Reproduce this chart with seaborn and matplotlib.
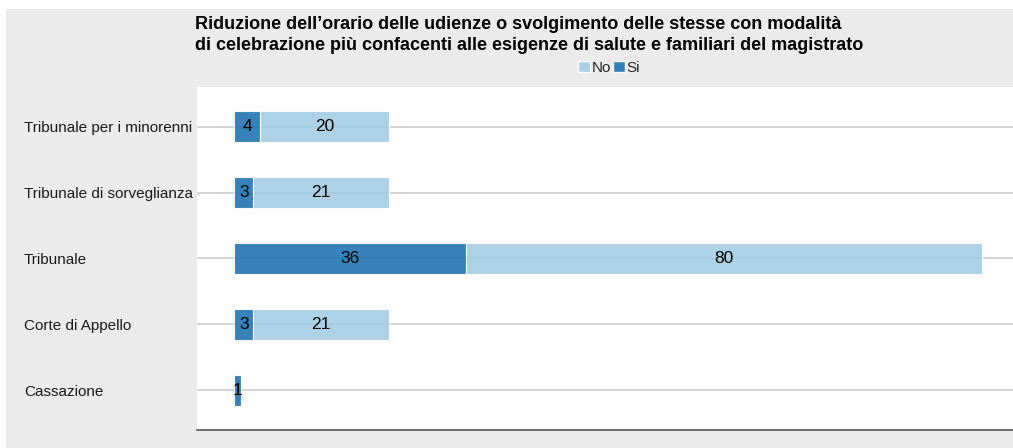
import matplotlib
matplotlib.use("Agg")
import matplotlib.pyplot as plt
import seaborn as sns
import pandas as pd
from matplotlib.patches import Patch, Rectangle

# Data
categorie = ["Tribunale per i minorenni", "Tribunale di sorveglianza", "Tribunale",
             "Corte di Appello", "Cassazione"]
si = [4, 3, 36, 3, 1]
no = [20, 21, 80, 21, 0]

title = ("Riduzione dell\u2019orario delle udienze o svolgimento delle stesse con modalità\n"
         "di celebrazione più confacenti alle esigenze di salute e familiari del magistrato")

col_si = "#2175b3"
col_no = "#a4cde3"
bg = "#ebebeb"

sns.set_theme(style="white")
plt.rcParams["font.family"] = ["Liberation Sans", "DejaVu Sans"]

W, H = 1013, 448
fig = plt.figure(figsize=(W / 100, H / 100), dpi=100, facecolor="white")
fig.patches.append(Rectangle((6 / W, 0), 1, (H - 9) / H, transform=fig.transFigure,
                             facecolor=bg, edgecolor="none", zorder=-10))

ax = fig.add_axes([197 / W, 18 / H, (W - 197) / W, (430 - 87) / H])
ax.set_facecolor("white")

df = pd.DataFrame({"categoria": categorie, "Si": si, "No": no})

# horizontal gridlines behind the bars
for i in range(len(categorie)):
    ax.axhline(i, color="#d4d4d4", lw=1.4, zorder=0)

bar_h = 0.48
sns.barplot(data=df, x="Si", y="categoria", orient="h", color=col_si, alpha=0.9,
            width=bar_h, ax=ax, zorder=2, linewidth=0.8, edgecolor=(1, 1, 1, 0.6),
            saturation=1)
ax.barh(range(len(categorie)), df["No"], left=df["Si"], height=bar_h, color=col_no,
        alpha=0.9, zorder=2, linewidth=0.8, edgecolor=(1, 1, 1, 0.7))

for i, (s, n) in enumerate(zip(si, no)):
    if s > 0:
        ax.text(s / 2, i, str(s), ha="center", va="center", fontsize=12.5,
                color="black", zorder=3)
    if n > 0:
        ax.text(s + n / 2, i, str(n), ha="center", va="center", fontsize=12.5,
                color="black", zorder=3)

ax.set_xlim(-5.75, 120.8)
ax.set_ylim(len(categorie) - 0.4, -0.6)
ax.set_xlabel("")
ax.set_ylabel("")
ax.set_xticks([])
ax.tick_params(axis="y", length=0, pad=124.5)
for lab in ax.get_yticklabels():
    lab.set_horizontalalignment("left")
    lab.set_fontsize(11)
    lab.set_color("#1a1a1a")
for side in ["top", "right", "left"]:
    ax.spines[side].set_visible(False)
ax.spines["bottom"].set_color("#555555")
ax.spines["bottom"].set_linewidth(1.2)

fig.text(195 / W, 1 - 16 / H, title, ha="left", va="top", fontsize=13,
         fontweight="bold", color="black", linespacing=1.3)

handles = [Patch(facecolor=col_no, alpha=0.9, label="No"),
           Patch(facecolor=col_si, alpha=0.9, label="Si")]
fig.legend(handles=handles, loc="center", bbox_to_anchor=(609 / W, 1 - 68 / H),
           ncol=2, frameon=False, fontsize=11, handlelength=0.75, handleheight=0.75,
           handletextpad=0.1, columnspacing=0.15, borderpad=0)

fig.savefig("out.png", dpi=100, facecolor=fig.get_facecolor())
